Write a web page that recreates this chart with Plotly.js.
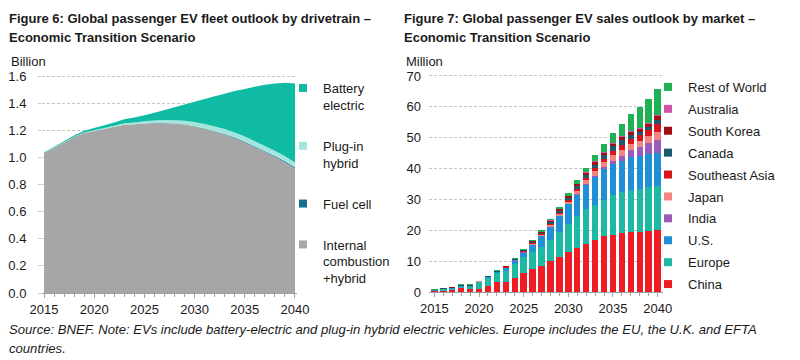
<!DOCTYPE html>
<html><head><meta charset="utf-8">
<script src="https://cdn.plot.ly/plotly-3.0.1.min.js"></script>
<style>html,body{margin:0;padding:0;background:#fff}#chart{width:800px;height:360px}</style>
</head><body><div id="chart"></div>
<script>
// ---------- data ----------
const years = [2015,2016,2017,2018,2019,2020,2021,2022,2023,2024,2025,2026,2027,2028,2029,2030,2031,2032,2033,2034,2035,2036,2037,2038,2039,2040];

// Figure 6: fleet by drivetrain (billion)
const fleetIce      = [1.03,1.07,1.11,1.15,1.18,1.195,1.21,1.225,1.24,1.245,1.25,1.252,1.252,1.248,1.24,1.227,1.21,1.19,1.168,1.142,1.11,1.075,1.04,1.005,0.965,0.92];
const fleetFuelCell = [0,0,0,0,0,0,0,0,0,0,0,0.001,0.001,0.001,0.002,0.002,0.003,0.003,0.004,0.004,0.005,0.005,0.006,0.006,0.007,0.007];
const fleetPhev     = [0.001,0.002,0.002,0.003,0.004,0.005,0.007,0.009,0.011,0.013,0.016,0.019,0.022,0.025,0.028,0.031,0.033,0.035,0.037,0.038,0.039,0.039,0.038,0.037,0.036,0.035];
const fleetBev      = [0.005,0.006,0.007,0.009,0.012,0.016,0.02,0.024,0.03,0.036,0.044,0.058,0.075,0.096,0.12,0.15,0.184,0.222,0.261,0.306,0.351,0.401,0.451,0.497,0.542,0.583];

// Figure 7: sales by market (million)
const salesChina     = [0.25,0.45,0.6,1.2,1.1,1.1,2.0,3.1,3.4,4.5,6.1,7.4,8.5,10.0,11.4,13.1,14.2,15.6,16.9,18.0,18.6,19.0,19.3,19.6,19.7,20.0];
const salesEurope    = [0.2,0.4,0.4,0.3,0.4,2.0,2.4,2.9,3.5,4.5,5.2,5.7,6.2,6.9,8.1,8.9,10.4,11.2,11.3,11.8,12.9,13.3,13.7,13.9,14.3,14.3];
const salesUS        = [0.15,0.2,0.25,0.4,0.4,0.2,0.4,0.4,0.8,1.2,1.5,2.2,3.3,4.1,5.0,6.4,6.9,8.0,9.0,10.0,10.0,10.3,10.6,10.7,10.8,10.9];
const salesIndia     = [0.01,0.01,0.01,0.01,0.01,0.01,0.01,0.02,0.02,0.02,0.03,0.05,0.05,0.1,0.1,0.15,0.2,0.3,0.4,0.7,1.1,1.5,2.3,2.9,3.5,4.2];
const salesJapan     = [0.05,0.06,0.06,0.12,0.12,0.1,0.1,0.15,0.18,0.2,0.27,0.35,0.45,0.6,0.7,0.75,1.0,1.1,1.5,1.6,1.8,2.0,1.9,1.9,2.1,2.5];
const salesSEAsia    = [0.01,0.01,0.01,0.02,0.02,0.04,0.04,0.07,0.08,0.1,0.15,0.2,0.25,0.35,0.4,0.5,0.7,0.8,1.0,1.1,1.3,1.6,1.8,1.8,2.0,2.6];
const salesCanada    = [0.08,0.1,0.1,0.2,0.2,0.08,0.08,0.14,0.17,0.18,0.25,0.3,0.45,0.6,0.65,0.7,0.9,1.0,1.2,1.3,1.5,1.6,1.4,1.2,1.1,1.3];
const salesKorea     = [0.04,0.05,0.05,0.12,0.12,0.06,0.06,0.1,0.12,0.12,0.15,0.25,0.3,0.4,0.4,0.45,0.6,0.6,0.8,0.7,0.7,0.8,0.9,0.8,0.9,1.1];
const salesAustralia = [0.01,0.02,0.02,0.03,0.03,0.01,0.01,0.02,0.03,0.03,0.05,0.05,0.1,0.15,0.15,0.15,0.2,0.2,0.3,0.3,0.3,0.3,0.3,0.3,0.3,0.4];
const salesRoW       = [0.1,0.1,0.1,0.1,0.1,0.1,0.1,0.2,0.2,0.25,0.3,0.4,0.5,0.6,0.7,0.9,1.1,1.5,1.9,2.5,3.2,3.9,5.4,6.8,7.9,8.6];

// stacking order: bottom first
const fleetSeries = [
  {name:'Internal<br>combustion<br>+hybrid', y:fleetIce, color:'#a6a6a6'},
  {name:'Fuel cell', y:fleetFuelCell, color:'#17708f'},
  {name:'Plug-in<br>hybrid', y:fleetPhev, color:'#a3e4dc'},
  {name:'Battery<br>electric', y:fleetBev, color:'#0fbca3'}
];
const salesSeries = [
  {name:'China', y:salesChina, color:'#ee1c25'},
  {name:'Europe', y:salesEurope, color:'#1db9a5'},
  {name:'U.S.', y:salesUS, color:'#1f8fd6'},
  {name:'India', y:salesIndia, color:'#9b5bb8'},
  {name:'Japan', y:salesJapan, color:'#f4857e'},
  {name:'Southeast Asia', y:salesSEAsia, color:'#d9141b'},
  {name:'Canada', y:salesCanada, color:'#1d5a70'},
  {name:'South Korea', y:salesKorea, color:'#a00f14'},
  {name:'Australia', y:salesAustralia, color:'#d552ab'},
  {name:'Rest of World', y:salesRoW, color:'#20b155'}
];

// ---------- layout helpers ----------
const W = 800, H = 360;
const px = v => v / W;
const py = v => 1 - v / H;
const FONT = 'Liberation Sans, Arial, Helvetica, sans-serif';

const traces = [];
fleetSeries.forEach(s => {
  traces.push({type:'scatter', x:years, y:s.y, stackgroup:'fleet', mode:'none',
    fillcolor:s.color, line:{width:0}, name:s.name.replace(/<br>/g,' '),
    showlegend:false, xaxis:'x', yaxis:'y'});
});
// legend entries listed top to bottom (reverse of stacking)
fleetSeries.slice().reverse().forEach((s,i) => {
  traces.push({type:'scatter', mode:'markers', x:[null], y:[null], name:s.name,
    marker:{symbol:'square', size:8, color:s.color}, legend:'legend',
    legendgroup:'f'+i, showlegend:true, xaxis:'x', yaxis:'y'});
});
salesSeries.forEach(s => {
  traces.push({type:'bar', x:years, y:s.y, name:s.name, marker:{color:s.color, line:{width:0}},
    showlegend:false, xaxis:'x2', yaxis:'y2'});
});
salesSeries.slice().reverse().forEach((s,i) => {
  traces.push({type:'scatter', mode:'markers', x:[null], y:[null], name:s.name,
    marker:{symbol:'square', size:8, color:s.color}, legend:'legend2',
    legendgroup:'s'+i, showlegend:true, xaxis:'x2', yaxis:'y2'});
});

const tickFont = {family:FONT, size:13, color:'#1a1a1a'};
const gridCommon = {gridcolor:'#c4c4c4', griddash:'3px,2px', gridwidth:1, zeroline:false, showline:false};
const xCommon = {tick0:2015, dtick:5, ticks:'outside', ticklen:4, tickcolor:'#a0a0a0', showline:true,
  linecolor:'#a0a0a0', linewidth:1, showgrid:false, zeroline:false, tickfont:tickFont,
  minor:{tick0:2015, dtick:1, ticks:'outside', ticklen:3, tickcolor:'#a0a0a0'}};

const layout = {
  width:W, height:H, margin:{l:0,r:0,t:0,b:0}, paper_bgcolor:'#fff', plot_bgcolor:'#fff',
  font:{family:FONT, size:13, color:'#1a1a1a'},
  barmode:'stack', bargap:0.28,
  xaxis:Object.assign({}, xCommon, {domain:[px(42),px(297)], range:[2014.8,2040.2], anchor:'y'}),
  yaxis:Object.assign({}, gridCommon, {domain:[py(293),py(73.3)], range:[0,1.62], dtick:0.2, tickformat:'.1f',
    ticks:'outside', ticklen:3, tickcolor:'#c8c8c8', tickfont:tickFont, anchor:'x', ticklabelstandoff:9}),
  xaxis2:Object.assign({}, xCommon, {domain:[px(429),px(663)], range:[2014.4,2040.6], anchor:'y2'}),
  yaxis2:Object.assign({}, gridCommon, {domain:[py(292),py(72.9)], range:[0,71], dtick:10,
    ticks:'', tickfont:tickFont, anchor:'x2', ticklabelstandoff:7}),
  legend:{x:px(283), y:py(73), xanchor:'left', yanchor:'top', bgcolor:'rgba(0,0,0,0)',
    font:{family:FONT, size:13, color:'#1a1a1a'}, traceorder:'grouped', tracegroupgap:21, valign:'top'},
  legend2:{x:px(648), y:py(72), xanchor:'left', yanchor:'top', bgcolor:'rgba(0,0,0,0)',
    font:{family:FONT, size:13, color:'#1a1a1a'}, traceorder:'grouped', tracegroupgap:2},
  annotations:[
    {text:'<b>Figure 6: Global passenger EV fleet outlook by drivetrain –</b>', x:px(7), y:py(18), xref:'paper', yref:'paper', xanchor:'left', yanchor:'middle', showarrow:false, font:{family:FONT, size:13, color:'#1a1a1a'}},
    {text:'<b>Economic Transition Scenario</b>', x:px(7), y:py(38), xref:'paper', yref:'paper', xanchor:'left', yanchor:'middle', showarrow:false, font:{family:FONT, size:13, color:'#1a1a1a'}},
    {text:'<b>Figure 7: Global passenger EV sales outlook by market –</b>', x:px(402), y:py(18), xref:'paper', yref:'paper', xanchor:'left', yanchor:'middle', showarrow:false, font:{family:FONT, size:13, color:'#1a1a1a'}},
    {text:'<b>Economic Transition Scenario</b>', x:px(402), y:py(38), xref:'paper', yref:'paper', xanchor:'left', yanchor:'middle', showarrow:false, font:{family:FONT, size:13, color:'#1a1a1a'}},
    {text:'Billion', x:px(9), y:py(61), xref:'paper', yref:'paper', xanchor:'left', yanchor:'middle', showarrow:false, font:{family:FONT, size:13, color:'#1a1a1a'}},
    {text:'Million', x:px(404), y:py(61), xref:'paper', yref:'paper', xanchor:'left', yanchor:'middle', showarrow:false, font:{family:FONT, size:13, color:'#1a1a1a'}},
    {text:'<i>Source: BNEF. Note: EVs include battery-electric and plug-in hybrid electric vehicles. Europe includes the EU, the U.K. and EFTA</i>', x:px(7), y:py(329), xref:'paper', yref:'paper', xanchor:'left', yanchor:'middle', showarrow:false, font:{family:FONT, size:13.1, color:'#1a1a1a'}},
    {text:'<i>countries.</i>', x:px(7), y:py(348), xref:'paper', yref:'paper', xanchor:'left', yanchor:'middle', showarrow:false, font:{family:FONT, size:13.1, color:'#1a1a1a'}}
  ]
};

Plotly.newPlot('chart', traces, layout, {displayModeBar:false, staticPlot:true});
</script>
</body></html>
